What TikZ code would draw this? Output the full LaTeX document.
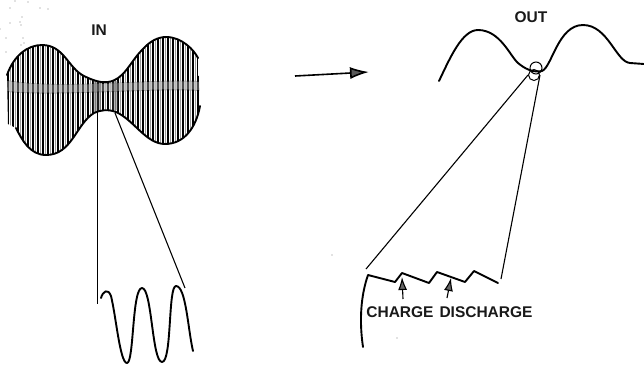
\documentclass[tikz,border=0pt]{standalone}
\usepackage{fontspec}
\setmainfont{Liberation Sans}
\usepackage{tikz}
\usetikzlibrary{arrows.meta}

\begin{document}
\begin{tikzpicture}[x=1pt,y=-1pt,lien/.style={line width=1.1pt},trace/.style={line width=1.9pt,line join=round,line cap=round},rayure/.style={line width=2.2pt},rayuregris/.style={line width=1pt,black!40},titre/.style={font=\bfseries\fontsize{15.5}{17}\selectfont,inner sep=0pt,text=black!90},fleche/.style={line width=1.1pt,-{Latex[length=13pt,width=9pt,fill=black!60]}},grande/.style={line width=1.6pt,-{Latex[length=19pt,width=12pt,fill=black!65]}}]
\useasboundingbox (0,0) rectangle (644,365);
\node[titre] (in) at (99,30) {IN};
\node[titre] (out) at (531,17) {OUT};
\node[titre] (charge) at (400,312) {CHARGE};
\node[titre] (discharge) at (486,312) {DISCHARGE};
% envelope
\begin{scope}
\clip (7,75) .. controls (14,55) and (28,45) .. (42,45) .. controls (64,45) and (68,68) .. (84,76) .. controls (94,81) and (102,83) .. (108,82) .. controls (124,80) and (130,62) .. (142,50) .. controls (150,41) and (158,37) .. (166,37) .. controls (182,37) and (194,50) .. (198,58) -- (200,106) .. controls (196,128) and (184,144) .. (165,144) .. controls (146,144) and (134,120) .. (116,112) .. controls (108,109) and (100,110) .. (94,113) .. controls (76,124) and (72,155) .. (46,155) .. controls (30,155) and (22,140) .. (16,128) -- (8,124) -- cycle;
\fill[black!30] (7,80) .. controls (60,90) and (150,78) .. (200,81) -- (200,91) .. controls (150,88) and (60,97) .. (7,92) -- cycle;
\foreach \x in {8,13,...,203}{
  \draw[rayure] (\x,30)--(\x,160);
  \draw[rayuregris] (\x+2,30)--(\x+2,160);
}
\fill[white,opacity=.3] (7,81) .. controls (60,90) and (150,79) .. (200,82) -- (200,90) .. controls (150,87) and (60,96) .. (7,91) -- cycle;
\fill[black!70,opacity=.4] (93,81) rectangle (101,112);
\fill[black!70,opacity=.4] (112,81) rectangle (118,110);
\end{scope}
\draw[trace] (7,75) .. controls (14,55) and (28,45) .. (42,45) .. controls (64,45) and (68,68) .. (84,76) .. controls (94,81) and (102,83) .. (108,82) .. controls (124,80) and (130,62) .. (142,50) .. controls (150,41) and (158,37) .. (166,37) .. controls (182,37) and (194,50) .. (198,58);
\draw[trace] (16,128) .. controls (22,140) and (30,155) .. (46,155) .. controls (72,155) and (76,124) .. (94,113) .. controls (100,110) and (108,109) .. (116,112) .. controls (134,120) and (146,144) .. (165,144) .. controls (184,144) and (196,128) .. (200,106);
% zoom lines left
\coordinate (a1) at (97.5,112);
\coordinate (a2) at (97.5,304);
\coordinate (b1) at (115,113);
\coordinate (b2) at (185,288);
\draw[lien] (a1)--(a2);
\draw[lien] (b1)--(b2);
% wave
\draw[trace] (101,298) .. controls (103,291) and (108,288) .. (111,296) .. controls (116,316) and (120,363) .. (127,363) .. controls (134,363) and (132,288) .. (142,288) .. controls (152,288) and (152,362) .. (162,362) .. controls (172,362) and (168,286) .. (176,286) .. controls (186,286) and (188,330) .. (193,351);
% middle arrow
\coordinate (f1) at (295,76);
\coordinate (f2) at (369,72);
\draw[grande] (f1)--(f2);
% output
\draw[trace] (439,81) .. controls (450,58) and (462,30) .. (478,30) .. controls (500,30) and (510,56) .. (518,63) .. controls (524,68) and (532,73) .. (542,71) .. controls (552,67) and (558,25) .. (583,25) .. controls (608,25) and (616,62) .. (630,63) -- (644,64);
\node[draw,circle,line width=1pt,inner sep=0pt,minimum size=12pt] (c1) at (536,68) {};
\node[draw,circle,line width=1pt,inner sep=0pt,minimum size=11pt] (c2) at (534,75) {};
\coordinate (g1) at (366,269);
\coordinate (g2) at (501,279);
\draw[lien] (c2.west)--(g1);
\draw[lien] (c2.east)--(g2);
% charge curve
\draw[trace] (363,347) .. controls (359,320) and (361,295) .. (368,275) -- (395,282) -- (402,273) -- (429,283) -- (437,272) -- (465,282) -- (474,271) -- (498,283);
\coordinate (h1) at (403,299);
\coordinate (h2) at (402,277);
\coordinate (i1) at (447,298);
\coordinate (i2) at (451,278);
\draw[fleche] (h1)--(h2);
\draw[fleche] (i1)--(i2);
% specks
\foreach \x/\y in {397/338,332/255,15/1,28/2,10/8,40/8,48/9,22/17,20/22,10/23,0/29,21/25,6/38,23/38,24/43,6/52,21/45}
  \fill[black!50] (\x,\y) circle (.7pt);
\end{tikzpicture}
\end{document}
